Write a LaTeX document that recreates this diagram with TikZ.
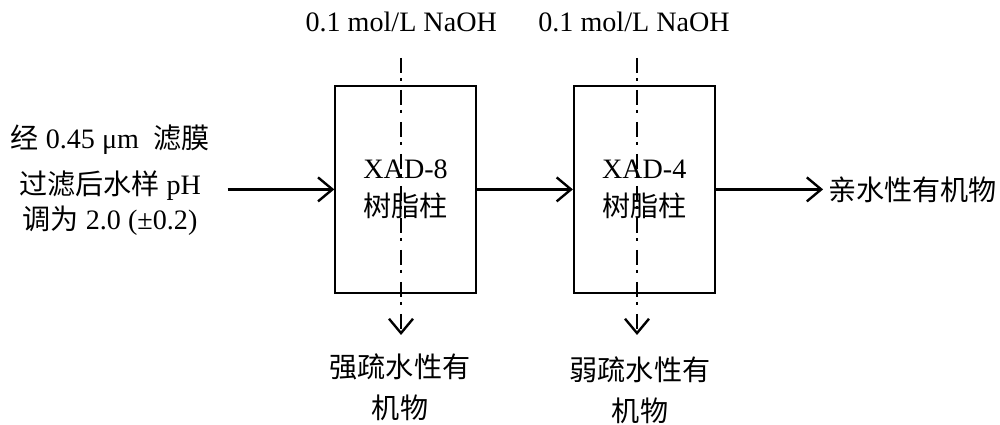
\documentclass[tikz,border=0pt]{standalone}
\usepackage{fontspec}
\setmainfont{Liberation Serif}
\newfontfamily\cjk{Noto Sans CJK SC}
\usetikzlibrary{arrows.meta, positioning}
\newcommand{\zh}[1]{{\cjk #1}}
\tikzset{
    column/.style={
        rectangle, draw=black, line width=1.3pt, minimum width=3.52cm, minimum height=5.18cm, align=center,
        font=\fontsize{20pt}{27pt}\selectfont
    },
    txt/.style={
        align=center, font=\fontsize{20pt}{29pt}\selectfont
    },
    flow/.style={
        line width=1.7pt, -{Straight Barb[length=3.6mm, width=6mm]}
    },
    elute/.style={
        flow, dash pattern=on 0.38cm off 0.12cm on 0.08cm off 0.22cm
    }
}

\begin{document}
\begin{tikzpicture}

    \useasboundingbox (0,0) rectangle (25,10.625);

    % Resin columns
    \node[column] (xad8) at (10.14,5.89) {XAD-8\\\zh{树脂柱}};
    \node[column, right=2.4cm of xad8] (xad4) {XAD-4\\\zh{树脂柱}};

    % Sample and products
    \node[txt, font=\fontsize{20pt}{25pt}\selectfont, inner xsep=0.45cm] (src) at (2.75,6.12)
        {\zh{经} 0.45 μm\ \ \zh{滤膜}\\[8pt]\zh{过滤后水样} pH\\\zh{调为} 2.0 (±0.2)};
    \node[txt] (hpi) at (22.81,5.89) {\zh{亲水性有机物}};
    \node[txt] (hpo8) at (10.0,0.95) {\zh{强疏水性有}\\\zh{机物}};
    \node[txt] (hpo4) at (16.0,0.86) {\zh{弱疏水性有}\\\zh{机物}};

    % Eluent
    \node[txt] (naoh8) at (10.03,10.075) {0.1 mol/L NaOH};
    \node[txt] (naoh4) at (15.85,10.075) {0.1 mol/L NaOH};
    \coordinate (in8) at (10.025,9.175);
    \coordinate (out8) at (10.025,2.25);
    \coordinate (in4) at (15.925,9.175);
    \coordinate (out4) at (15.925,2.25);

    % Flow
    \draw[flow] (xad8.west -| src.east) -- (xad8.west);
    \draw[flow] (xad8) -- (xad4);
    \draw[flow] (xad4.east) -- (hpi.west);
    \draw[elute] (in8) -- (out8);
    \draw[elute] (in4) -- (out4);

\end{tikzpicture}
\end{document}
